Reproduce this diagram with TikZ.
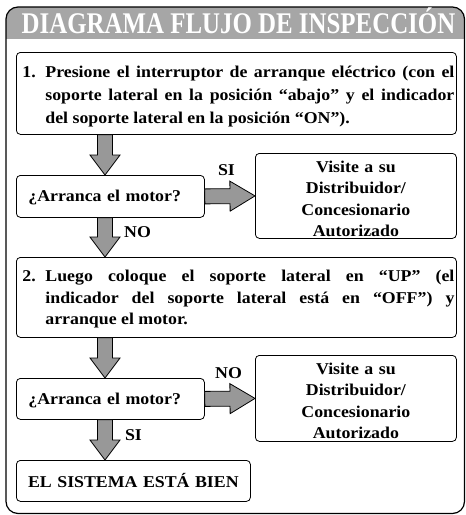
\documentclass[tikz,border=0pt]{standalone}
\usepackage{fontspec}
\setmainfont{Liberation Serif}[FakeStretch=1.08]
\newfontfamily\fuentetitulo{Liberation Serif}[FakeStretch=0.83]
\usetikzlibrary{calc, positioning}

\definecolor{grisTitulo}{RGB}{166,166,166}
\definecolor{grisFlecha}{RGB}{152,152,152}

\tikzset{
    marco/.style={draw, line width=1.2pt, rounded corners=12pt},
    caja/.style={draw, line width=0.8pt, rounded corners=4pt, anchor=north west,
        inner xsep=2pt, inner ysep=0pt, font=\bfseries\fontsize{16.5}{23}\selectfont},
    etiqueta/.style={anchor=base, inner sep=0pt, font=\bfseries\fontsize{16.5}{20}\selectfont},
    flecha/.style={draw=black, line width=0.8pt, fill=grisFlecha, line join=miter,
        to path={
            ($(\tikztotarget)!#1!(\tikztostart)$) coordinate (fbase)
            ($(\tikztostart)!7.5pt!90:(\tikztotarget)$)
            -- ($(fbase)!7.5pt!90:(\tikztotarget)$)
            -- ($(fbase)!15pt!90:(\tikztotarget)$)
            -- (\tikztotarget)
            -- ($(fbase)!15pt!-90:(\tikztotarget)$)
            -- ($(fbase)!7.5pt!-90:(\tikztotarget)$)
            -- ($(\tikztostart)!7.5pt!-90:(\tikztotarget)$)
            -- cycle}},
    flecha/.default=20pt
}

\begin{document}
\begin{tikzpicture}[x=1pt, y=-1pt]
    \useasboundingbox (0,0) rectangle (466,515);

    % Banda gris del titulo y marco exterior
    \begin{scope}
        \clip[rounded corners=12pt] (6,7) rectangle (464.5,513.5);
        \fill[grisTitulo] (6,7) rectangle (464.5,39);
    \end{scope}
    \draw[marco] (6,7) rectangle (464.5,513.5);
    \node[anchor=base, inner sep=0pt, text=white, font=\fuentetitulo\bfseries\fontsize{30}{30}\selectfont]
        (titulo) at (238.5,33) {DIAGRAMA FLUJO DE INSPECCIÓN};

    % Eje de las flechas verticales
    \coordinate (eje) at (105,0);

    % Paso 1
    \node[caja, text width=436pt, align=justify, text height=25pt, text depth=57pt] (paso1) at (16,52)
        {\leavevmode\hangindent=27pt\hangafter=1\relax\hspace*{4pt}\makebox[23pt][l]{1.}Presione el interruptor de arranque eléctrico (con el\linebreak soporte lateral en la posición “abajo” y el indicador\linebreak del soporte lateral en la posición “ON”).\par};

    % Primera pregunta
    \node[caja, text width=164pt, inner xsep=12pt, align=left, text height=26pt, text depth=16pt] (preg1) at (16,175)
        {¿Arranca el motor?};
    \node[caja, text width=197pt, align=center, text height=19pt, text depth=66pt,
        font=\bfseries\fontsize{16.5}{21.3}\selectfont] (visita1) at (255,153)
        {Visite a su\\ Distribuidor/\\ Concesionario\\ Autorizado};

    % Paso 2
    \node[caja, text width=436pt, align=justify, text height=24.5pt, text depth=55.5pt,
        font=\bfseries\fontsize{16.5}{21.5}\selectfont] (paso2) at (16,257)
        {\leavevmode\hangindent=27pt\hangafter=1\relax\hspace*{4pt}\makebox[23pt][l]{2.}Luego coloque el soporte lateral en “UP” (el\linebreak indicador del soporte lateral está en “OFF”) y\linebreak arranque el motor.\par};

    % Segunda pregunta
    \node[caja, text width=164pt, inner xsep=12pt, align=left, text height=26.5pt, text depth=14.5pt] (preg2) at (16,378)
        {¿Arranca el motor?};
    \node[caja, text width=197pt, align=center, text height=19pt, text depth=67pt,
        font=\bfseries\fontsize{16.5}{21.3}\selectfont] (visita2) at (255,355)
        {Visite a su\\ Distribuidor/\\ Concesionario\\ Autorizado};

    % Resultado final
    \node[caja, text width=230pt, align=center, text height=27.5pt, text depth=13.5pt,
        font=\bfseries\fontsize{16.5}{20}\selectfont] (fin) at (16,460)
        {EL SISTEMA ESTÁ BIEN};

    % Flechas
    \draw[flecha] (paso1.south -| eje) to (preg1.north -| eje);
    \draw[flecha=25pt] (preg1.east) to (visita1.west);
    \draw[flecha] (preg1.south -| eje) to (paso2.north -| eje);
    \draw[flecha] (paso2.south -| eje) to (preg2.north -| eje);
    \draw[flecha=25pt] (preg2.east) to (visita2.west);
    \draw[flecha] (preg2.south -| eje) to (fin.north -| eje);

    % Etiquetas SI / NO
    \node[etiqueta] (si1) at (226.5,175) {SI};
    \node[etiqueta] (no1) at (137.5,237) {NO};
    \node[etiqueta] (no2) at (228.5,378) {NO};
    \node[etiqueta] (si2) at (133.5,440) {SI};
\end{tikzpicture}
\end{document}
